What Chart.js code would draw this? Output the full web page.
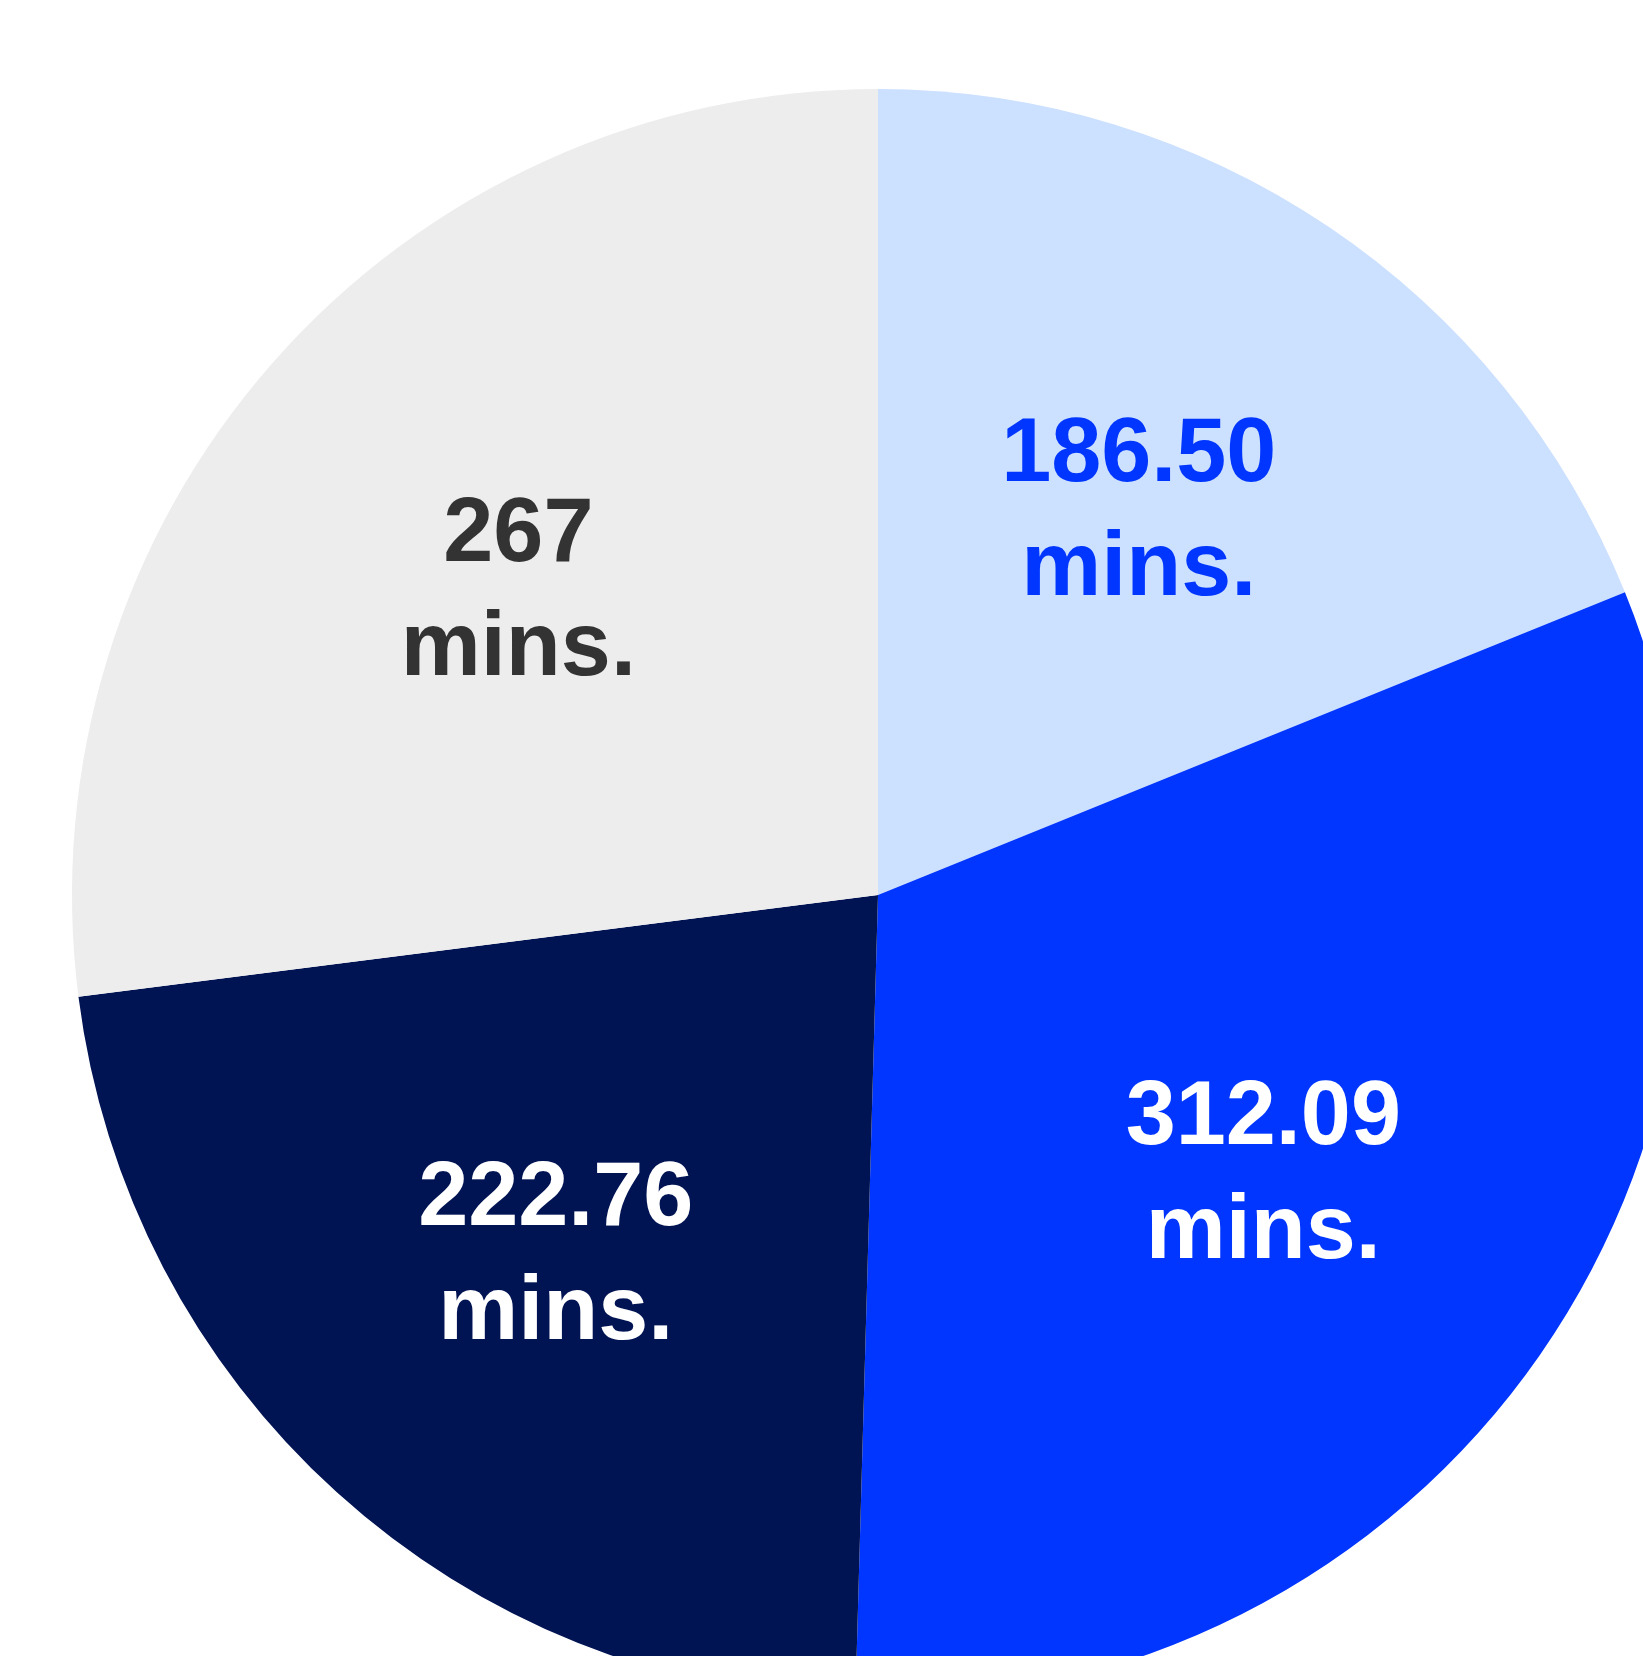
<!DOCTYPE html>
<html>
<head>
<meta charset="utf-8">
<script src="https://cdn.jsdelivr.net/npm/chart.js@4"></script>
<style>
  html, body { margin: 0; padding: 0; background: #ffffff; overflow: hidden; }
  #wrap { position: absolute; left: 0; top: 0; width: 1756px; height: 1790px; }
</style>
</head>
<body>
<div id="wrap"><canvas id="myChart"></canvas></div>
<script>
const ctx = document.getElementById('myChart').getContext('2d');

// minutes per slice, clockwise from the top
const categories = ['A', 'B', 'C', 'D'];
const minutes = [186.50, 312.09, 222.76, 267];
const valueLabels = ['186.50', '312.09', '222.76', '267'];
const sliceColors = ['#cce0ff', '#0036ff', '#001353', '#ededed'];
const textColors = ['#0036ff', '#ffffff', '#ffffff', '#333333'];

// draws "value / mins." inside each slice
const sliceLabels = {
    id: 'sliceLabels',
    afterDatasetsDraw(chart) {
        const c = chart.ctx;
        const meta = chart.getDatasetMeta(0);
        c.save();
        c.font = 'bold 90px "Liberation Sans", Arial, sans-serif';
        c.textAlign = 'center';
        c.textBaseline = 'alphabetic';
        meta.data.forEach((arc, i) => {
            const p = arc.getProps(['x', 'y', 'startAngle', 'endAngle', 'outerRadius'], true);
            const mid = (p.startAngle + p.endAngle) / 2;
            const d = p.outerRadius * 0.588;
            const cx = p.x + Math.cos(mid) * d - 4;
            const cy = p.y + Math.sin(mid) * d + 6;
            c.fillStyle = textColors[i];
            c.fillText(valueLabels[i], cx, cy - 27);
            c.fillText('mins.', cx, cy + 87);
        });
        c.restore();
    }
};

new Chart(ctx, {
    type: 'pie',
    data: {
        labels: categories,
        datasets: [{
            data: minutes,
            backgroundColor: sliceColors,
            borderWidth: 0
        }]
    },
    options: {
        responsive: true,
        maintainAspectRatio: false,
        animation: false,
        layout: { padding: 72 },
        plugins: {
            legend: { display: false },
            tooltip: { enabled: false }
        }
    },
    plugins: [sliceLabels]
});
</script>
</body>
</html>
